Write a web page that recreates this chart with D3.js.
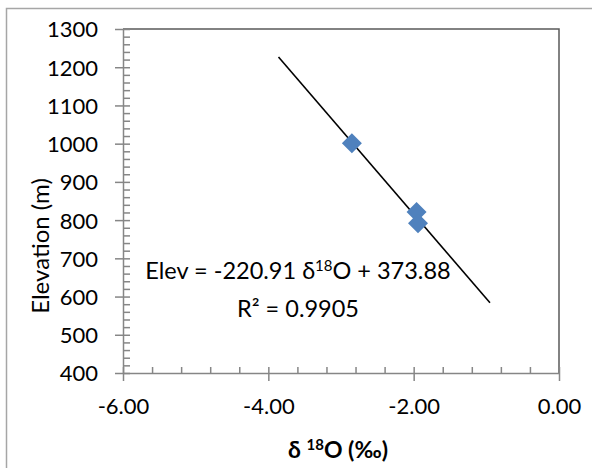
<!DOCTYPE html>
<html>
<head>
<meta charset="utf-8">
<script src="https://cdn.jsdelivr.net/npm/d3@7"></script>
<style>
  body { margin: 0; background: #fff; }
  svg text { font-family: Lato, "Open Sans", sans-serif; fill: #000; }
</style>
</head>
<body>
<div id="chart"></div>
<script>
// data
let d18O = [-2.85, -1.96, -1.94];
let elevation = [1001, 821, 792];
let trend_x = [-3.86, -0.95];
let slope = -220.91;
let intercept = 373.88;
let x_ticks = [-6, -4, -2, 0];
let y_ticks = [400, 500, 600, 700, 800, 900, 1000, 1100, 1200, 1300];

let svg_width = 592;
let svg_height = 468;

let margin = { top: 29, right: 33, bottom: 95, left: 123 };
let width = svg_width - margin.left - margin.right;
let height = svg_height - margin.top - margin.bottom;

let svg = d3.select('#chart').append('svg')
  .attr('width', svg_width)
  .attr('height', svg_height);

// chart area border (only top/left visible in frame)
svg.append('rect')
  .attr('x', 6.5).attr('y', 8.5)
  .attr('width', 700).attr('height', 600)
  .attr('fill', 'none')
  .attr('stroke', '#a6a6a6')
  .attr('stroke-width', 1.5);

let g = svg.append('g')
  .attr('transform', `translate(${margin.left}, ${margin.top})`);

let x = d3.scaleLinear().domain([-6, 0]).range([0, width]);
let y = d3.scaleLinear().domain([400, 1300]).range([height, 0]);

// plot area border, top and right
g.append('path')
  .attr('d', `M0,0H${width}V${height}`)
  .attr('fill', 'none')
  .attr('stroke', '#595959')
  .attr('stroke-width', 1.5);

//minor ticks x (inside)
let xMinor = d3.range(0, 16).map(i => -6 + i * 0.4);
g.append('g')
  .attr('transform', `translate(0, ${height})`)
  .call(d3.axisTop(x).tickValues(xMinor).tickSize(6).tickFormat(''))
  .call(a => a.select('.domain').remove())
  .selectAll('line').attr('stroke', '#868686').attr('stroke-width', 1.5);

//major x axis
let xAxis = g.append('g')
  .attr('transform', `translate(0, ${height})`)
  .call(d3.axisBottom(x).tickValues(x_ticks).tickSize(8).tickSizeOuter(0));
xAxis.select('.domain').attr('stroke', '#868686').attr('stroke-width', 1.5);
xAxis.selectAll('line').attr('stroke', '#868686').attr('stroke-width', 1.5);
xAxis.selectAll('text')
  .attr('y', 41).attr('dy', 0)
  .attr('font-size', '22px')
  .text(d => d3.format('.2f')(d).replace('−', '-'));

//minor ticks y (inside)
let yMinor = d3.range(0, 46).map(i => 400 + i * 20);
g.append('g')
  .call(d3.axisRight(y).tickValues(yMinor).tickSize(7).tickFormat(''))
  .call(a => a.select('.domain').remove())
  .selectAll('line').attr('stroke', '#868686').attr('stroke-width', 1.5);

//major y axis
let yAxis = g.append('g')
  .call(d3.axisLeft(y).tickValues(y_ticks).tickSize(8).tickSizeOuter(0).tickFormat(d3.format('d')));
yAxis.select('.domain').attr('stroke', '#868686').attr('stroke-width', 1.5);
yAxis.selectAll('line').attr('stroke', '#868686').attr('stroke-width', 1.5);
yAxis.selectAll('text')
  .attr('x', -25).attr('dy', '0.36em')
  .attr('font-size', '22px');

// trendline
g.append('line')
  .attr('x1', x(trend_x[0])).attr('y1', y(slope * trend_x[0] + intercept))
  .attr('x2', x(trend_x[1])).attr('y2', y(slope * trend_x[1] + intercept))
  .attr('stroke', '#000')
  .attr('stroke-width', 1.6);

// markers
let diamond = d3.symbol().type(d3.symbolSquare).size(200);
g.selectAll('.pt')
  .data(d18O.map((v, i) => [v, elevation[i]]))
  .enter()
  .append('path')
  .classed('pt', true)
  .attr('d', diamond)
  .attr('transform', d => `translate(${x(d[0])}, ${y(d[1])}) rotate(45)`)
  .attr('fill', '#4f81bd');

// equation label
let eq = g.append('text')
  .attr('x', 298 - margin.left)
  .attr('y', 279 - margin.top)
  .attr('text-anchor', 'middle')
  .attr('font-size', '23.5px');
eq.append('tspan').text('Elev = -220.91 δ');
eq.append('tspan').attr('font-size', '15px').attr('dy', -8).text('18');
eq.append('tspan').attr('dy', 8).text('O + 373.88');

let r2 = g.append('text')
  .attr('x', 298 - margin.left)
  .attr('y', 317 - margin.top)
  .attr('text-anchor', 'middle')
  .attr('font-size', '23.5px');
r2.append('tspan').text('R² = 0.9905');

// axis titles
let xt = svg.append('text')
  .attr('x', 338)
  .attr('y', 458)
  .attr('text-anchor', 'middle')
  .attr('font-size', '23px')
  .attr('font-weight', 'bold');
xt.append('tspan').text('δ ');
xt.append('tspan').attr('font-size', '15px').attr('dy', -8).text('18');
xt.append('tspan').attr('dy', 8).text('O (‰)');

svg.append('text')
  .attr('transform', 'translate(49, 246) rotate(-90)')
  .attr('text-anchor', 'middle')
  .attr('font-size', '24px')
  .text('Elevation (m)');
</script>
</body>
</html>
